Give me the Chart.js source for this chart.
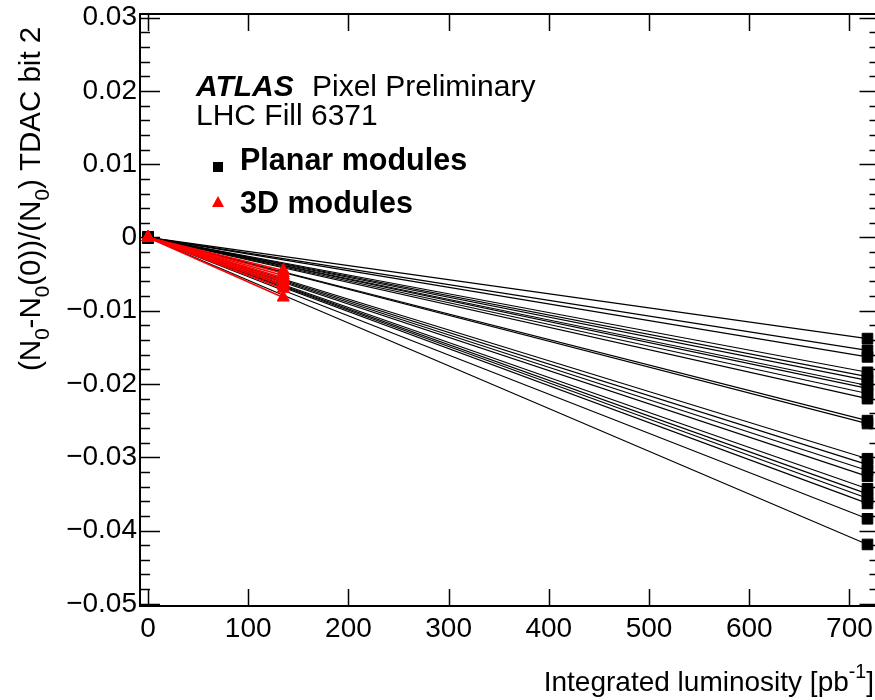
<!DOCTYPE html>
<html>
<head>
<meta charset="utf-8">
<script src="https://cdn.jsdelivr.net/npm/chart.js@4.4.0/dist/chart.umd.min.js"></script>
<style>
  html, body { margin: 0; padding: 0; background: #fff; overflow: hidden; }
  #chart { position: absolute; left: 0; top: 0; }
</style>
</head>
<body>
<canvas id="chart" width="888" height="700"></canvas>
<script>
// integrated luminosity of the last point of each module type
const lumiPlanar = 718;
const lumi3D = 135;

// relative change at the last point, one value per module
const planarEnd = [
  -0.0138, -0.0154, -0.0163, -0.0184, -0.0190, -0.0195, -0.0202, -0.0206,
  -0.0213, -0.0220, -0.0250, -0.0254, -0.0302, -0.0310, -0.0318, -0.0326,
  -0.0343, -0.0350, -0.0356, -0.0363, -0.0384, -0.0419
];
const end3D = [
  -0.0045, -0.0049, -0.0052, -0.0055, -0.0058, -0.0060, -0.0063, -0.0066,
  -0.0070, -0.0082
];

const xTicks = [0, 100, 200, 300, 400, 500, 600, 700];
const yTicks = [-0.05, -0.04, -0.03, -0.02, -0.01, 0, 0.01, 0.02, 0.03];
const yTickLabels = ["\u22120.05", "\u22120.04", "\u22120.03", "\u22120.02", "\u22120.01", "0", "0.01", "0.02", "0.03"];

const FONT = "'Liberation Sans', Arial, Helvetica, sans-serif";

function moduleSet(endX, endY, color, style, radius, width, order) {
  return {
    data: [{ x: 0, y: 0 }, { x: endX, y: endY }],
    showLine: true,
    order: order,
    borderColor: color,
    borderWidth: width,
    backgroundColor: color,
    pointBackgroundColor: color,
    pointBorderColor: color,
    pointBorderWidth: 1,
    pointStyle: style,
    pointRadius: radius,
    pointHoverRadius: radius,
  };
}

const datasets = [];
planarEnd.forEach((v) => datasets.push(moduleSet(lumiPlanar, v, "#000", "rect", 7.5, 1.2, 2)));
end3D.forEach((v) => datasets.push(moduleSet(lumi3D, v, "#ff0000", "triangle", 7, 1.5, 1)));

// draw text with sub/superscripts, parts = [[text, "sub"|"sup"|""], ...]
function drawRich(ctx, parts, x, y, size) {
  let cx = x;
  parts.forEach(([t, kind]) => {
    let s = size, dy = 0;
    if (kind === "sub") { s = size * 0.7; dy = size * 0.3; }
    if (kind === "sup") { s = size * 0.7; dy = -size * 0.45; }
    ctx.font = s + "px " + FONT;
    ctx.fillText(t, cx, y + dy);
    cx += ctx.measureText(t).width;
  });
  return cx - x;
}

function richWidth(ctx, parts, size) {
  let w = 0;
  parts.forEach(([t, kind]) => {
    const s = kind ? size * 0.7 : size;
    ctx.font = s + "px " + FONT;
    w += ctx.measureText(t).width;
  });
  return w;
}

const framePlugin = {
  id: "frame",
  beforeDatasetsDraw(chart) {
    const { ctx, chartArea: a, scales } = chart;
    const xs = scales.x, ys = scales.y;
    ctx.save();
    ctx.strokeStyle = "#000";
    ctx.lineWidth = 1.5;
    ctx.beginPath();
    // x ticks, bottom and top
    xTicks.forEach((v) => {
      const px = Math.round(xs.getPixelForValue(v)) + 0.5;
      ctx.moveTo(px, a.bottom); ctx.lineTo(px, a.bottom - 17);
      ctx.moveTo(px, a.top); ctx.lineTo(px, a.top + 17);
    });
    // y ticks, major and minor, left and right
    for (let k = -25; k <= 15; k++) {
      const v = k * 0.002;
      const py = Math.round(ys.getPixelForValue(v)) + 0.5;
      const len = k % 5 === 0 ? 20 : 10;
      ctx.moveTo(a.left, py); ctx.lineTo(a.left + len, py);
      ctx.moveTo(a.right, py); ctx.lineTo(a.right - len, py);
    }
    ctx.stroke();
    ctx.lineWidth = 2;
    ctx.strokeRect(a.left, a.top, a.right - a.left, a.bottom - a.top);
    ctx.restore();
  },
  afterDraw(chart) {
    const { ctx } = chart;
    ctx.save();
    ctx.fillStyle = "#000";
    ctx.textBaseline = "alphabetic";
    ctx.textAlign = "left";

    ctx.font = "italic bold 30px " + FONT;
    ctx.fillText("ATLAS", 196, 96);
    ctx.font = "30px " + FONT;
    ctx.fillText("Pixel Preliminary", 312, 96);
    ctx.fillText("LHC Fill 6371", 196, 125);

    ctx.fillRect(213, 162, 10, 10);
    ctx.font = "bold 30.5px " + FONT;
    ctx.fillText("Planar modules", 240, 170);

    ctx.fillStyle = "#ff0000";
    ctx.beginPath();
    ctx.moveTo(218, 196); ctx.lineTo(224, 207); ctx.lineTo(212, 207);
    ctx.closePath(); ctx.fill();
    ctx.fillStyle = "#000";
    ctx.fillText("3D modules", 240, 213);

    // x axis title, right aligned
    const xt = [["Integrated luminosity [pb", ""], ["-1", "sup"], ["]", ""]];
    const w = richWidth(ctx, xt, 28);
    drawRich(ctx, xt, 874 - w, 691, 28);

    // y axis title, rotated
    const yt = [["(N", ""], ["0", "sub"], ["-N", ""], ["0", "sub"], ["(0))/(N", ""], ["0", "sub"], [") TDAC bit 2", ""]];
    ctx.translate(40, 371);
    ctx.rotate(-Math.PI / 2);
    drawRich(ctx, yt, 0, 0, 29.5);
    ctx.restore();
  },
};

new Chart(document.getElementById("chart"), {
  type: "scatter",
  data: { datasets: datasets },
  options: {
    responsive: false,
    animation: false,
    layout: { padding: { top: 14, right: 6, left: 0, bottom: 0 } },
    plugins: {
      legend: { display: false },
      tooltip: { enabled: false },
    },
    scales: {
      x: {
        type: "linear",
        min: -8,
        max: 730,
        afterBuildTicks: (s) => { s.ticks = xTicks.map((v) => ({ value: v })); },
        afterFit: (s) => { s.height = 94; s.paddingLeft = 0; s.paddingRight = 0; },
        grid: { display: false, drawTicks: false },
        border: { display: false },
        ticks: {
          autoSkip: false,
          maxRotation: 0,
          padding: 6,
          color: "#000",
          font: { size: 28, family: FONT },
          callback: (v) => String(v),
        },
      },
      y: {
        type: "linear",
        min: -0.0503,
        max: 0.0305,
        afterBuildTicks: (s) => { s.ticks = yTicks.map((v) => ({ value: v })); },
        afterFit: (s) => { s.width = 140; s.paddingTop = 0; s.paddingBottom = 0; },
        grid: { display: false, drawTicks: false },
        border: { display: false },
        ticks: {
          autoSkip: false,
          padding: 3,
          color: "#000",
          font: { size: 28, family: FONT },
          callback: (v, i) => yTickLabels[i],
        },
      },
    },
  },
  plugins: [framePlugin],
});
</script>
</body>
</html>
